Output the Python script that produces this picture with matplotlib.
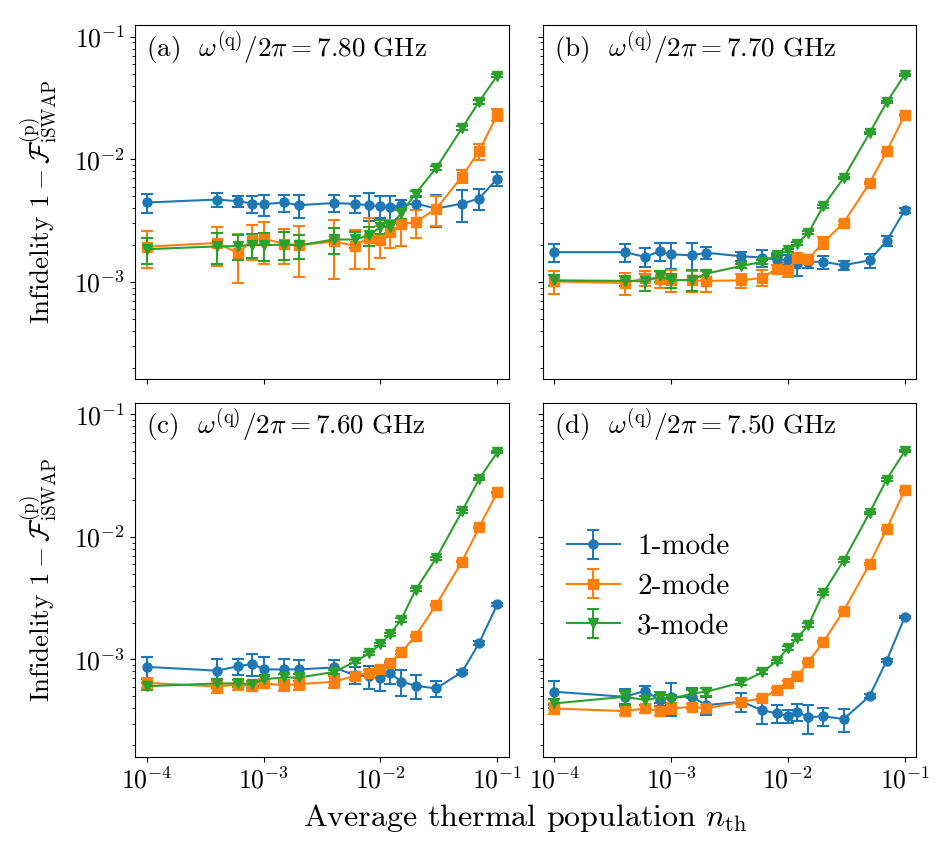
import numpy as np
import matplotlib
matplotlib.use("Agg")
import matplotlib.pyplot as plt
from matplotlib.ticker import NullLocator

plt.rcParams["font.family"] = "serif"
plt.rcParams["font.serif"] = ["cmr10", "DejaVu Serif"]
plt.rcParams["mathtext.fontset"] = "cm"
plt.rcParams["axes.formatter.use_mathtext"] = True
plt.rcParams["axes.unicode_minus"] = True

# average thermal population
n_th = [1e-4, 4e-4, 6e-4, 8e-4, 1e-3, 1.5e-3, 2e-3, 4e-3, 6e-3, 8e-3,
        1e-2, 1.2e-2, 1.5e-2, 2e-2, 3e-2, 5e-2, 7e-2, 1e-1]

# infidelities, in units of 1e-3
a_1mode = [4.45, 4.70, 4.56, 4.36, 4.31, 4.45, 4.23, 4.41, 4.33, 4.23, 4.15, 4.05, 4.23, 4.36, 3.97, 4.36, 4.79, 6.97]
a_1mode_err = [0.8, 0.65, 0.45, 0.7, 0.85, 0.7, 0.9, 0.7, 0.65, 1.1, 0.85, 0.93, 0.4, 0.53, 1.15, 1.26, 0.96, 0.94]
a_2mode = [1.94, 2.08, 1.72, 2.21, 2.25, 2.05, 1.99, 2.14, 1.97, 2.30, 2.21, 2.55, 2.95, 3.08, 3.95, 7.25, 11.7, 23.1]
a_2mode_err = [0.65, 0.73, 0.74, 0.70, 0.86, 0.65, 0.89, 1.09, 0.7, 1.02, 0.64, 0.66, 0.98, 0.8, 1.07, 0.89, 1.72, 2.6]
a_3mode = [1.85, 1.95, 1.96, 2.01, 1.99, 2.02, 1.99, 2.22, 2.22, 2.40, 2.82, 2.82, 3.62, 5.26, 8.5, 18.0, 29.6, 48.2]
a_3mode_err = [0.45, 0.56, 0.45, 0.44, 0.5, 0.52, 0.44, 0.54, 0.33, 0.43, 0.36, 0.3, 0.36, 0.26, 0.34, 0.72, 1.2, 1.5]

b_1mode = [1.75, 1.75, 1.60, 1.79, 1.68, 1.65, 1.73, 1.62, 1.58, 1.52, 1.52, 1.41, 1.46, 1.46, 1.37, 1.50, 2.16, 3.83]
b_1mode_err = [0.30, 0.30, 0.28, 0.30, 0.40, 0.43, 0.20, 0.15, 0.25, 0.15, 0.15, 0.30, 0.15, 0.18, 0.12, 0.19, 0.2, 0.15]
b_2mode = [1.01, 0.98, 1.08, 1.06, 1.04, 1.03, 1.02, 1.03, 1.08, 1.28, 1.26, 1.57, 1.55, 2.08, 3.04, 6.4, 11.6, 23.0]
b_2mode_err = [0.22, 0.2, 0.15, 0.16, 0.22, 0.2, 0.2, 0.13, 0.16, 0.1, 0.16, 0.15, 0.1, 0.23, 0.1, 0.15, 0.2, 0.3]
b_3mode = [1.03, 1.02, 1.01, 1.11, 1.03, 1.04, 1.17, 1.35, 1.46, 1.65, 1.81, 2.05, 2.52, 4.13, 7.07, 16.4, 29.2, 49.1]
b_3mode_err = [0.1, 0.1, 0.16, 0.12, 0.13, 0.2, 0.08, 0.06, 0.06, 0.06, 0.06, 0.06, 0.08, 0.1, 0.15, 0.3, 0.5, 0.8]

c_1mode = [0.87, 0.81, 0.88, 0.92, 0.83, 0.83, 0.83, 0.86, 0.745, 0.73, 0.70, 0.78, 0.66, 0.61, 0.58, 0.79, 1.36, 2.81]
c_1mode_err = [0.18, 0.2, 0.13, 0.19, 0.22, 0.18, 0.16, 0.13, 0.12, 0.16, 0.15, 0.15, 0.16, 0.13, 0.09, 0.03, 0.05, 0.08]
c_2mode = [0.645, 0.60, 0.625, 0.605, 0.637, 0.615, 0.63, 0.657, 0.735, 0.778, 0.84, 0.94, 1.14, 1.56, 2.79, 6.3, 12.0, 23.1]
c_2mode_err = [0.06, 0.07, 0.06, 0.05, 0.05, 0.06, 0.07, 0.07, 0.05, 0.05, 0.04, 0.03, 0.03, 0.03, 0.04, 0.06, 0.1, 0.2]
c_3mode = [0.605, 0.637, 0.637, 0.63, 0.69, 0.713, 0.713, 0.79, 0.957, 1.12, 1.33, 1.6, 2.1, 3.7, 6.7, 16.2, 29.7, 49.0]
c_3mode_err = [0.04, 0.05, 0.04, 0.04, 0.04, 0.05, 0.05, 0.03, 0.03, 0.03, 0.04, 0.04, 0.06, 0.1, 0.2, 0.4, 0.7, 1.0]

d_1mode = [0.545, 0.496, 0.555, 0.466, 0.496, 0.496, 0.424, 0.452, 0.386, 0.363, 0.345, 0.374, 0.337, 0.345, 0.326, 0.502, 0.975, 2.21]
d_1mode_err = [0.12, 0.08, 0.05, 0.05, 0.15, 0.09, 0.07, 0.08, 0.09, 0.06, 0.04, 0.06, 0.09, 0.06, 0.07, 0.02, 0.03, 0.05]
d_2mode = [0.398, 0.379, 0.398, 0.38, 0.398, 0.411, 0.398, 0.452, 0.481, 0.562, 0.644, 0.73, 0.957, 1.38, 2.49, 6.0, 11.6, 24.0]
d_2mode_err = [0.04, 0.03, 0.03, 0.03, 0.04, 0.02, 0.03, 0.02, 0.02, 0.02, 0.02, 0.02, 0.02, 0.03, 0.05, 0.1, 0.2, 0.3]
d_3mode = [0.438, 0.496, 0.466, 0.49, 0.472, 0.528, 0.545, 0.649, 0.784, 0.968, 1.24, 1.49, 1.91, 3.47, 6.42, 15.7, 29.4, 50.0]
d_3mode_err = [0.04, 0.06, 0.04, 0.05, 0.04, 0.04, 0.04, 0.03, 0.03, 0.03, 0.04, 0.05, 0.06, 0.1, 0.2, 0.4, 0.7, 1.0]

panel_tags = ["(a)", "(b)", "(c)", "(d)"]
qubit_freqs = ["7.80", "7.70", "7.60", "7.50"]
mode_labels = ["1-mode", "2-mode", "3-mode"]

panels = [
    [(a_1mode, a_1mode_err), (a_2mode, a_2mode_err), (a_3mode, a_3mode_err)],
    [(b_1mode, b_1mode_err), (b_2mode, b_2mode_err), (b_3mode, b_3mode_err)],
    [(c_1mode, c_1mode_err), (c_2mode, c_2mode_err), (c_3mode, c_3mode_err)],
    [(d_1mode, d_1mode_err), (d_2mode, d_2mode_err), (d_3mode, d_3mode_err)],
]

colors = ["tab:blue", "tab:orange", "tab:green"]
markers = ["o", "s", "v"]

fig, axes = plt.subplots(2, 2, figsize=(9.45, 8.44), dpi=100, sharex=True, sharey=True)
fig.subplots_adjust(left=0.1429, right=0.9693, top=0.9704, bottom=0.1031,
                    wspace=0.091, hspace=0.065)

x = np.array(n_th)
for i, ax in enumerate(axes.flat):
    for j, (vals, errs) in enumerate(panels[i]):
        y = np.array(vals) * 1e-3
        yerr = np.array(errs) * 1e-3
        ax.errorbar(x, y, yerr=yerr, color=colors[j], marker=markers[j],
                    markersize=6.5, lw=1.5, elinewidth=1.5, capsize=4.5,
                    capthick=1.5, label=mode_labels[j])
    ax.set_xscale("log")
    ax.set_yscale("log")
    ax.xaxis.set_minor_locator(NullLocator())
    ax.tick_params(labelsize=18.5)
    ax.text(0.03, 0.935,
            panel_tags[i] + r"  $\omega^{(\mathrm{q})}/2\pi = %s\ \mathrm{GHz}$" % qubit_freqs[i],
            transform=ax.transAxes, fontsize=19.5, va="center", ha="left")

axes[0, 0].set_xlim(7.9e-5, 0.125)
axes[0, 0].set_ylim(1.6e-4, 0.125)

for ax in axes[:, 0]:
    ax.set_ylabel(r"Infidelity $1 - \mathcal{F}^{(\mathrm{p})}_{\mathrm{iSWAP}}$", fontsize=19.5)
    ax.yaxis.set_label_coords(-0.2, 0.5)

axes[1, 1].legend(loc="center left", bbox_to_anchor=(0.035, 0.48), frameon=False,
                  fontsize=21, handlelength=1.8, labelspacing=0.45,
                  handletextpad=0.6, borderaxespad=0)

fig.text(0.556, 0.031, r"Average thermal population $n_{\mathrm{th}}$",
         fontsize=23, ha="center", va="center")

fig.savefig("out.png", dpi=100)
